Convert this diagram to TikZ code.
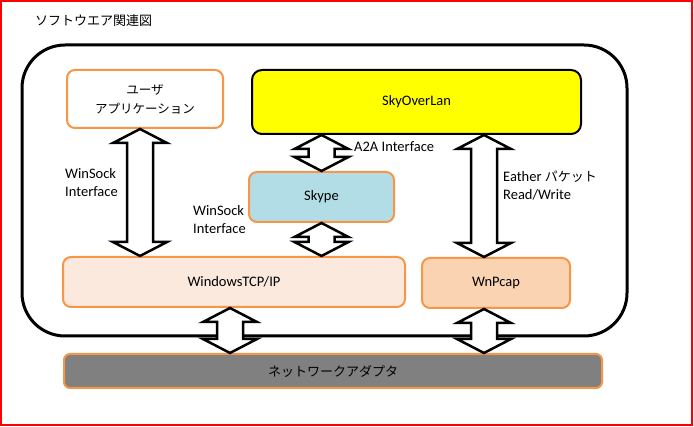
\documentclass[tikz,border=0pt]{standalone}
\usepackage{fontspec}
\setmainfont{Carlito}
\newfontfamily\jpfont{Noto Sans CJK JP}
\usepackage{xcolor}
\usepackage{tikz}
\usetikzlibrary{calc}
\definecolor{boxorange}{RGB}{247,150,70}
\definecolor{skyyellow}{RGB}{255,255,0}
\definecolor{skypeblue}{RGB}{178,221,230}
\definecolor{tcppeach}{RGB}{252,233,222}
\definecolor{pcappeach}{RGB}{250,211,178}
\definecolor{nicgray}{RGB}{128,128,128}
\tikzset{
  box/.style={draw=boxorange, line width=2pt, rounded corners=8pt, fill=white,
    font=\fontsize{14.5}{18}\selectfont, align=center, inner sep=2pt},
  lbl/.style={font=\fontsize{14.5}{18}\selectfont, align=left, anchor=west, inner sep=0pt},
  blockarr/.style={draw=black, line width=2.5pt, fill=white, line join=miter},
}
\newcommand{\dblarrow}[2]{%
  \draw[blockarr] (#1) -- ++(27,14) -- ++(-14,0) -- ($(#2)+(13,-14)$) -- ++(14,0)
    -- (#2) -- ++(-27,-14) -- ++(14,0) -- ($(#1)+(-13,14)$) -- ++(-14,0) -- cycle;}

\begin{document}
\begin{tikzpicture}[x=1pt, y=-1pt]
  \useasboundingbox (0,0) rectangle (694,427);
  \draw[red, line width=2pt] (1,1) rectangle (692,425);
  \node[lbl, font=\jpfont\fontsize{13}{16}\selectfont] (title) at (35,21) {ソフトウエア関連図};
  % outer frame
  \draw[line width=3pt, rounded corners=43pt] (22,45) rectangle (627,336);
  % boxes
  \node[box, minimum width=156pt, minimum height=58pt,
    font=\jpfont\fontsize{12.5}{19}\selectfont] (user) at (145,99) {ユーザ\\アプリケーション};
  \node[box, draw=black, fill=skyyellow, rounded corners=10pt,
    minimum width=329pt, minimum height=64pt] (sky) at (416.5,102) {SkyOverLan};
  \node[box, fill=skypeblue, minimum width=145pt, minimum height=50pt] (skype) at (321.5,197) {Skype};
  \node[box, fill=tcppeach, minimum width=342pt, minimum height=50pt] (tcp) at (234,282) {WindowsTCP/IP};
  \node[box, fill=pcappeach, minimum width=148pt, minimum height=50pt] (wnp) at (496,283) {WnPcap};
  \node[box, fill=nicgray, rounded corners=6pt, minimum width=538pt, minimum height=34pt,
    font=\jpfont\fontsize{13}{16}\selectfont] (nic) at (333,371) {ネットワークアダプタ};
  % arrows
  \coordinate (a1t) at ($(user.south)+(-5,0)$);
  \coordinate (a1b) at (a1t |- tcp.north);
  \coordinate (a2b) at (skype.north);
  \coordinate (a2t) at (a2b |- sky.south);
  \coordinate (a3t) at (skype.south);
  \coordinate (a3b) at (a3t |- tcp.north);
  \coordinate (a4b) at ($(wnp.north)+(-12,0)$);
  \coordinate (a4t) at (a4b |- sky.south);
  \coordinate (a5t) at ($(tcp.south)+(-4,0)$);
  \coordinate (a5b) at (a5t |- nic.north);
  \coordinate (a6t) at ($(wnp.south)+(-12,0)$);
  \coordinate (a6b) at (a6t |- nic.north);
  \dblarrow{a1t}{a1b}
  \dblarrow{a2t}{a2b}
  \dblarrow{a3t}{a3b}
  \dblarrow{a4t}{a4b}
  \dblarrow{a5t}{a5b}
  \dblarrow{a6t}{a6b}
  % labels
  \node[lbl] (wsock1) at (65,183) {WinSock\\Interface};
  \node[lbl] (wsock2) at (193,220) {WinSock\\Interface};
  \node[lbl] (a2a) at (354,147) {A2A Interface};
  \node[lbl] (ether) at (503,186) {Eather {\jpfont\fontsize{13}{18}\selectfont パケット}\\Read/Write};
\end{tikzpicture}
\end{document}
